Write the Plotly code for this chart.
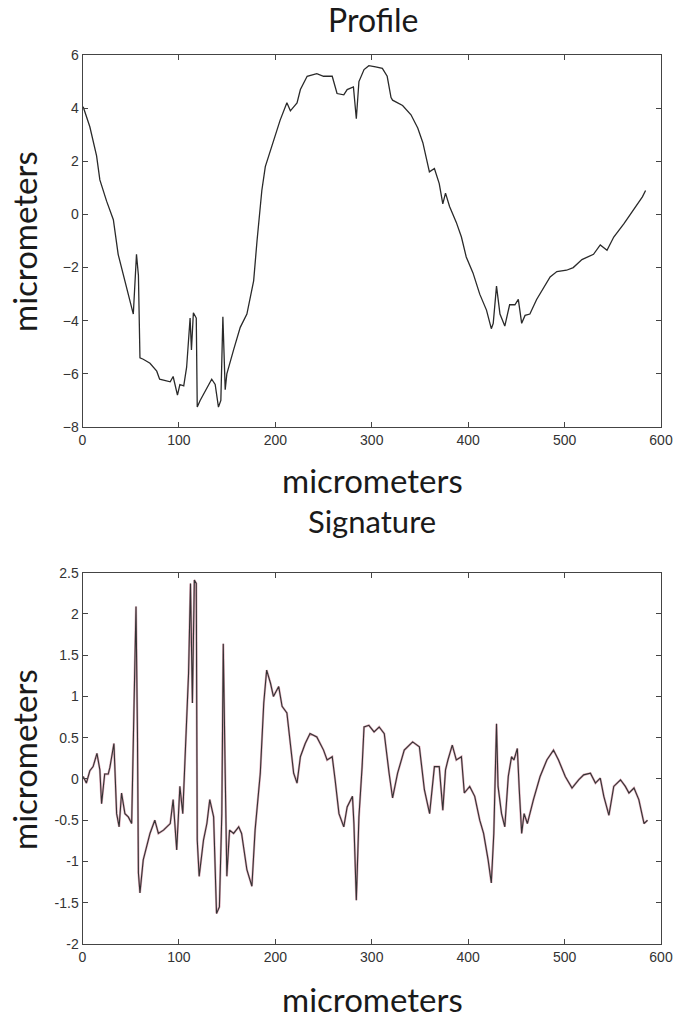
import plotly.graph_objects as go

# ---- Profile data (micrometers) ----
profile_x = [0.7, 7.6, 14.6, 18, 25, 32, 37, 39, 42, 47.5, 52.7, 56, 58, 59.6, 63, 70, 77, 80, 91, 94,
             98.5, 101, 105, 108, 111.6, 113, 115, 118, 119, 122, 129, 134, 137.6, 141, 143.5, 145.6,
             148, 149.7, 156.7, 163.6, 170.5, 177.5, 181, 186, 189.6, 198, 205, 212, 215.6, 222.5,
             226, 233, 243, 250, 259, 264, 271, 274.5, 281, 284, 286.7, 292, 297, 304, 311, 316, 320,
             321.6, 332, 340.7, 347.7, 353, 359.8, 365, 370, 373.7, 376.5, 380.7, 387.7, 393, 398, 405,
             412, 419, 424, 426, 429.4, 433, 438, 443, 448.5, 452, 455.5, 459, 464, 471, 478, 485, 492,
             502, 509, 518, 530, 537, 544, 551, 561.6, 568.5, 575.5, 580.7, 584]
profile_y = [4.05, 3.3, 2.2, 1.3, 0.5, -0.2, -1.5, -1.8, -2.2, -3.0, -3.75, -1.5, -2.3, -5.4, -5.45,
             -5.6, -5.9, -6.2, -6.3, -6.1, -6.8, -6.4, -6.45, -5.75, -3.9, -5.1, -3.7, -3.9, -7.25, -7.0,
             -6.5, -6.2, -6.4, -7.25, -7.0, -3.85, -6.6, -6.0, -5.1, -4.25, -3.75, -2.5, -1.0, 0.9, 1.8,
             2.8, 3.55, 4.2, 3.9, 4.2, 4.7, 5.2, 5.3, 5.2, 5.2, 4.55, 4.5, 4.7, 4.8, 3.6, 5.0, 5.45,
             5.6, 5.55, 5.5, 5.2, 4.4, 4.3, 4.1, 3.75, 3.25, 2.7, 1.6, 1.73, 1.16, 0.4, 0.8, 0.3, -0.3,
             -0.85, -1.6, -2.2, -3.0, -3.6, -4.3, -4.1, -2.7, -3.75, -4.2, -3.4, -3.4, -3.2, -4.1, -3.8,
             -3.75, -3.2, -2.75, -2.35, -2.15, -2.1, -2.0, -1.7, -1.5, -1.15, -1.35, -0.85, -0.35, 0.03,
             0.4, 0.66, 0.9]

# ---- Signature data (micrometers) ----
sig_x = [0.7, 4, 7.6, 11, 15, 18, 19.8, 23, 26.7, 28.4, 32.6, 35.4, 38, 40.5, 44, 47.5, 51, 52.7, 55.5,
         57, 58, 59.6, 63, 70, 75, 78.7, 84, 91, 94, 97.7, 101, 104, 108, 110, 112, 114, 116, 118, 119,
         121, 125.5, 129, 132, 136, 139, 142, 144.5, 146, 148, 149.7, 152.5, 156.7, 162, 165, 170.5,
         175.7, 179, 184.4, 188, 191, 195, 198, 203.5, 207, 212, 219, 222.5, 226, 231, 236, 243, 250,
         253.7, 259, 262, 266, 271, 274.5, 280, 281.5, 284, 286.7, 290, 292, 297, 302.4, 307.7, 313,
         318, 321.6, 326.8, 333.7, 342.4, 349.4, 354.6, 360, 365, 370, 373.7, 376.5, 379, 383.5, 387.7,
         393, 396, 401.6, 406.8, 412, 416, 420.7, 424, 426.6, 429.4, 431, 434.6, 438, 441.6, 445,
         447.5, 451, 453, 455.5, 458, 461.4, 467.7, 474.6, 481.6, 488.5, 493.7, 500.7, 507.7, 514.6,
         519.8, 526.8, 532, 537, 540.7, 546, 551, 558, 563, 566.8, 572, 577, 582.4, 586]
sig_y = [0.03, -0.05, 0.1, 0.15, 0.31, 0.11, -0.3, 0.06, 0.06, 0.14, 0.43, -0.42, -0.58, -0.17, -0.42,
         -0.46, -0.54, 0.47, 2.09, 0.55, -1.14, -1.38, -0.98, -0.66, -0.5, -0.66, -0.62, -0.54, -0.25,
         -0.86, -0.09, -0.42, 0.63, 1.28, 2.37, 0.92, 2.41, 2.37, -0.74, -1.18, -0.74, -0.54, -0.25,
         -0.46, -1.63, -1.55, -0.42, 1.64, 0.07, -1.18, -0.62, -0.66, -0.58, -0.66, -1.1, -1.3, -0.62,
         0.07, 0.92, 1.32, 1.16, 1.0, 1.12, 0.88, 0.8, 0.07, -0.05, 0.27, 0.43, 0.55, 0.51, 0.35, 0.23,
         0.27, -0.01, -0.42, -0.58, -0.34, -0.21, -0.54, -1.47, -0.46, 0.15, 0.63, 0.65, 0.57, 0.63,
         0.55, 0.07, -0.23, 0.07, 0.35, 0.45, 0.39, -0.13, -0.42, 0.15, 0.15, -0.38, 0.11, 0.23, 0.41,
         0.23, 0.27, -0.17, -0.09, -0.21, -0.5, -0.66, -0.98, -1.26, -0.66, 0.67, -0.09, -0.42, -0.58,
         0.03, 0.27, 0.23, 0.37, -0.13, -0.66, -0.42, -0.54, -0.25, 0.03, 0.23, 0.35, 0.23, 0.03, -0.11,
         -0.01, 0.05, 0.07, -0.05, 0.01, -0.21, -0.44, -0.09, -0.01, -0.09, -0.17, -0.11, -0.25, -0.54,
         -0.5]

x_ticks = [0, 100, 200, 300, 400, 500, 600]
top_y_ticks = [-8, -6, -4, -2, 0, 2, 4, 6]
bot_y_ticks = [-2, -1.5, -1, -0.5, 0, 0.5, 1, 1.5, 2, 2.5]
bot_y_labels = ["-2", "-1.5", "-1", "-0.5", "0", "0.5", "1", "1.5", "2", "2.5"]

W, H = 673, 1018
fig = go.Figure()

fig.add_trace(go.Scatter(x=profile_x, y=profile_y, mode="lines",
                         line=dict(color="#2a2a2a", width=1.3), xaxis="x", yaxis="y",
                         showlegend=False, hoverinfo="skip"))
fig.add_trace(go.Scatter(x=sig_x, y=sig_y, mode="lines",
                         line=dict(color="#b04060", width=2.2), xaxis="x2", yaxis="y2",
                         showlegend=False, hoverinfo="skip", opacity=0.45))
fig.add_trace(go.Scatter(x=sig_x, y=sig_y, mode="lines",
                         line=dict(color="#333333", width=1.1), xaxis="x2", yaxis="y2",
                         showlegend=False, hoverinfo="skip"))

tick_font = dict(family="Liberation Sans Narrow, Arial Narrow, Liberation Sans, sans-serif",
                 size=14, color="#333333")
xdom = [82.5 / W, 661 / W]
axis_common = dict(showline=True, linecolor="#444444", linewidth=1, mirror="ticks",
                   ticks="inside", ticklen=5, tickcolor="#444444", showgrid=False,
                   zeroline=False, tickfont=tick_font, automargin=False,
                   ticklabeloverflow="allow")

fig.update_layout(
    width=W, height=H,
    margin=dict(l=0, r=0, t=0, b=0),
    paper_bgcolor="white", plot_bgcolor="white",
    xaxis=dict(domain=xdom, range=[0, 600], tickvals=x_ticks, anchor="y", **axis_common),
    yaxis=dict(domain=[1 - 427 / H, 1 - 55 / H], range=[-8, 6], tickvals=top_y_ticks,
               anchor="x", **axis_common),
    xaxis2=dict(domain=xdom, range=[0, 600], tickvals=x_ticks, anchor="y2", **axis_common),
    yaxis2=dict(domain=[1 - 944 / H, 1 - 572.7 / H], range=[-2, 2.5], tickvals=bot_y_ticks,
                ticktext=bot_y_labels, anchor="x2", **axis_common),
)

label_font = dict(family="Lato, Open Sans, sans-serif", color="#1a1a1a")
texts = [
    ("Profile", 373, 20, 32, 0),
    ("micrometers", 372, 480, 33, 0),
    ("Signature", 372, 521, 31, 0),
    ("micrometers", 372, 999, 33, 0),
    ("micrometers", 24, 242, 33, -90),
    ("micrometers", 24, 760, 33, -90),
]
for t, px, py, sz, ang in texts:
    fig.add_annotation(text=t, x=px / W, y=1 - py / H, xref="paper", yref="paper",
                       showarrow=False, xanchor="center", yanchor="middle", textangle=ang,
                       font=dict(size=sz, **label_font))

fig.write_html("out.html")
